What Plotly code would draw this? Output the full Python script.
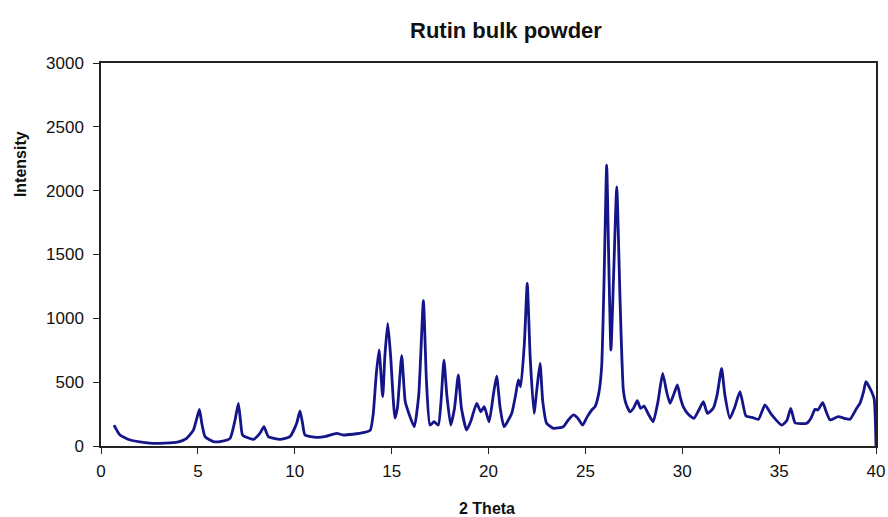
import plotly.graph_objects as go

# Powder X-ray diffraction pattern of rutin bulk powder
two_theta = [
    0.67, 0.98, 1.5, 2.0, 2.5, 3.0, 3.56, 4.0, 4.42, 4.77, 4.95, 5.08, 5.2, 5.37,
    5.8, 6.2, 6.66, 6.92, 7.09, 7.2, 7.31, 7.86, 8.2, 8.41, 8.64, 9.24, 9.75,
    10.1, 10.27, 10.4, 10.53, 11.13, 11.6, 12.16, 12.5, 13.0, 13.54, 13.9,
    14.05, 14.2, 14.35, 14.54, 14.65, 14.8, 14.95, 15.17, 15.3, 15.52, 15.7,
    15.86, 16.17, 16.4, 16.64, 16.8, 16.98, 17.19, 17.41, 17.55, 17.7, 17.85,
    18.05, 18.25, 18.44, 18.6, 18.87, 19.1, 19.39, 19.6, 19.78, 20.03, 20.25,
    20.42, 20.6, 20.8, 21.2, 21.4, 21.54, 21.66, 21.85, 22.0, 22.15, 22.35,
    22.5, 22.66, 22.8, 23.0, 23.35, 23.86, 24.1, 24.38, 24.6, 24.86, 25.1,
    25.33, 25.5, 25.7, 25.84, 25.96, 26.1, 26.2, 26.32, 26.45, 26.62, 26.79,
    26.96, 27.1, 27.3, 27.5, 27.68, 27.85, 28.03, 28.25, 28.5, 28.75, 28.99,
    29.2, 29.37, 29.55, 29.75, 29.9, 30.05, 30.3, 30.6, 30.85, 31.09, 31.3,
    31.6, 31.8, 32.03, 32.2, 32.46, 32.7, 32.98, 33.29, 33.6, 33.93, 34.27,
    34.62, 35.13, 35.4, 35.6, 35.82, 36.1, 36.42, 36.65, 36.85, 37.0, 37.25,
    37.45, 37.63, 38.05, 38.4, 38.66, 39.0, 39.17, 39.35, 39.48, 39.69, 39.9,
    40.0,
]
intensity = [
    164, 86, 47, 32, 22, 20, 24, 32, 60, 125, 220, 287, 180, 73,
    34, 36, 60, 204, 334, 200, 86, 52, 99, 151, 73, 52, 73,
    178, 274, 180, 86, 68, 75, 99, 86, 92, 104, 125,
    250, 550, 752, 386, 700, 960, 700, 219, 300, 707, 350,
    268, 151, 400, 1138, 500, 164, 190, 164, 350, 673, 400,
    164, 300, 556, 300, 125, 200, 334, 268, 308, 190, 400,
    548, 300, 151, 256, 400, 517, 464, 800, 1274, 700, 256,
    450, 647, 350, 178, 138, 151, 200, 243, 220, 164, 230,
    282, 308, 420, 621, 1274, 2200, 1500, 752, 1300, 2030, 1143,
    438, 330, 268, 300, 355, 295, 313, 250, 190, 350, 569,
    420, 334, 400, 478, 380, 308, 250, 217, 280, 347, 256,
    295, 400, 608, 400, 217, 300, 425, 235, 225, 209, 321,
    243, 164, 200, 295, 182, 175, 178, 220, 287, 282, 339,
    260, 204, 230, 215, 209, 295, 334, 420, 504, 452, 373,
    0,
]

x_ticks = [0, 5, 10, 15, 20, 25, 30, 35, 40]
y_ticks = [0, 500, 1000, 1500, 2000, 2500, 3000]

LINE = "#15158a"
AXIS = "#222222"
FONT = "Liberation Sans, Arial, sans-serif"

fig = go.Figure()
fig.add_trace(go.Scatter(
    x=two_theta, y=intensity, mode="lines",
    line=dict(color=LINE, width=2.8, shape="spline", smoothing=0.5),
    hoverinfo="x+y", showlegend=False,
))

axis_common = dict(
    showgrid=False, zeroline=False, showline=True, linecolor=AXIS, linewidth=1.5,
    mirror=True, ticks="outside", ticklen=6, tickwidth=1.2, tickcolor=AXIS,
    tickfont=dict(family=FONT, size=17, color="#111111"), automargin=False,
)

fig.update_layout(
    width=888, height=517,
    margin=dict(l=101, r=12, t=63, b=71),
    paper_bgcolor="white", plot_bgcolor="white",
    xaxis=dict(range=[0, 40], tickvals=x_ticks, ticklabelstandoff=3, **axis_common),
    yaxis=dict(range=[0, 3000], tickvals=y_ticks, ticklabelstandoff=6, **axis_common),
    annotations=[
        dict(text="<b>Rutin bulk powder</b>", xref="paper", yref="paper",
             x=0.523, y=1.0, yshift=33, showarrow=False, xanchor="center", yanchor="middle",
             font=dict(family=FONT, size=22, color="#111111")),
        dict(text="<b>2 Theta</b>", xref="paper", yref="paper",
             x=0.498, y=0, yshift=-62, showarrow=False, xanchor="center", yanchor="middle",
             font=dict(family=FONT, size=16, color="#111111")),
        dict(text="<b>Intensity</b>", xref="paper", yref="paper",
             x=0, xshift=-81, y=0.736, showarrow=False, xanchor="center", yanchor="middle",
             textangle=-90, font=dict(family=FONT, size=16, color="#111111")),
    ],
)

fig.write_html("out.html")
